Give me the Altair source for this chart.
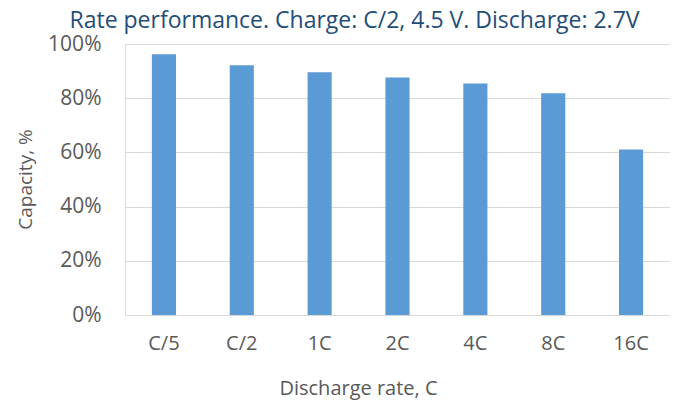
import altair as alt
import pandas as pd

rates = ["C/5", "C/2", "1C", "2C", "4C", "8C", "16C"]
capacity = [0.962, 0.922, 0.896, 0.876, 0.854, 0.818, 0.611]
y_ticks = [0, 0.2, 0.4, 0.6, 0.8, 1.0]

df = pd.DataFrame({"rate": rates, "capacity": capacity})

FONT = "Open Sans"
GREY = "#595959"

chart = alt.Chart(df).mark_bar(color="#5B9BD5").encode(
    x=alt.X(
        "rate:N",
        sort=rates,
        scale=alt.Scale(paddingInner=0.69, paddingOuter=0.345),
        axis=alt.Axis(
            title="Discharge rate, C",
            labelAngle=0,
            labelFont=FONT,
            labelFontSize=20,
            labelColor=GREY,
            labelBaseline="top",
            labelPadding=18,
            ticks=False,
            tickSize=0,
            domain=True,
            domainColor="#D9D9D9",
            domainWidth=1,
            titleFont=FONT,
            titleFontSize=20,
            titleFontWeight="normal",
            titleColor=GREY,
            titleX=233,
            titleY=79,
            titleAlign="center",
            titleBaseline="alphabetic",
        ),
    ),
    y=alt.Y(
        "capacity:Q",
        scale=alt.Scale(domain=[0, 1], nice=False),
        axis=alt.Axis(
            title="Capacity, %",
            values=y_ticks,
            format=".0%",
            labelFont=FONT,
            labelFontSize=21,
            labelColor=GREY,
            labelPadding=24,
            ticks=False,
            tickSize=0,
            domain=False,
            grid=True,
            gridColor="#D9D9D9",
            gridWidth=1,
            titleFont=FONT,
            titleFontSize=19,
            titleFontWeight="normal",
            titleColor=GREY,
            titleAngle=270,
            titleX=-100,
            titleY=135,
            titleAlign="center",
            titleBaseline="middle",
        ),
    ),
).properties(
    width=545,
    height=271,
    title=alt.TitleParams(
        text="Rate performance. Charge: C/2, 4.5 V. Discharge: 2.7V",
        font=FONT,
        fontSize=23,
        fontWeight="normal",
        color="#1F4E79",
        anchor="middle",
        frame="group",
        baseline="alphabetic",
        offset=10,
        dx=-43,
        dy=28,
    ),
    autosize=alt.AutoSizeParams(type="none"),
    padding={"left": 117, "top": 36, "right": 0, "bottom": 86},
).configure_view(stroke=None).configure(background="white")

chart.save("out.html", embed_options={"renderer": "svg", "actions": False})
